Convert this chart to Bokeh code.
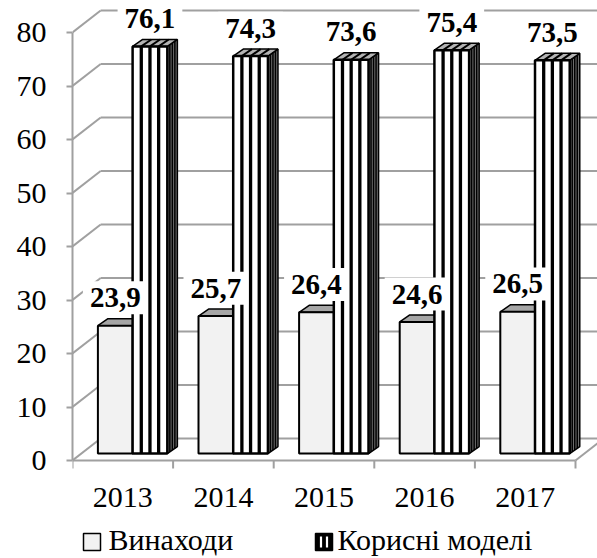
from bokeh.plotting import figure
from bokeh.models import Range1d, FixedTicker, LinearAxis
from bokeh.core.properties import value
from bokeh.embed import file_html
from bokeh.resources import INLINE

# ---- data ----
years = ["2013", "2014", "2015", "2016", "2017"]
inventions = [23.9, 25.7, 26.4, 24.6, 26.5]
utility_models = [76.1, 74.3, 73.6, 75.4, 73.5]
y_ticks = [0, 10, 20, 30, 40, 50, 60, 70, 80]
series_names = ["Винаходи", "Корисні моделі"]

# ---- layout / style constants ----
W, H = 597, 558
LEFT, FLOOR = 72, 460          # frame left edge and y=0 (pixels)
PX, PY = 100.6, 5.35           # pixels per category / per value unit
DX, DY = 0.28, 4.1             # wall / floor depth (data units)
BDX, BDY = 0.10, 1.3           # bar depth
B0 = 1.3                       # bar base (bars stand inside the floor)
BW = 0.345                     # bar width
OFF1, OFF2 = 0.425, 0.77       # bar centre offsets in a category
LBL = 5.2                      # label offset above bar top
GRID = "#a0a0a0"
FONT = "'Liberation Serif', 'Times New Roman', serif"

def xd(px):  # pixel -> data x
    return (px - LEFT) / PX

def yd(py):  # pixel -> data y
    return (FLOOR - py) / PY

fmt = lambda v: f"{v:.1f}".replace(".", ",")
n = len(years)
idx = list(range(n))

p = figure(width=W, height=H, x_range=Range1d(0, xd(W)), y_range=Range1d(yd(H), yd(0)),
           output_backend="svg", toolbar_location=None,
           x_axis_type=None, y_axis_type=None,
           min_border_left=LEFT, min_border_right=0, min_border_top=0, min_border_bottom=0)
p.outline_line_color = None
p.background_fill_color = "white"
p.border_fill_color = "white"

# ---- value axis ----
yaxis = LinearAxis(ticker=FixedTicker(ticks=y_ticks), bounds=(0, 80))
yaxis.axis_line_color = GRID
yaxis.axis_line_width = 2
yaxis.major_tick_out = 6
yaxis.major_tick_in = 0
yaxis.major_tick_line_color = GRID
yaxis.major_tick_line_width = 2
yaxis.minor_tick_line_color = None
yaxis.major_label_text_font = FONT
yaxis.major_label_text_font_size = "30px"
yaxis.major_label_text_color = "black"
yaxis.major_label_standoff = 20
p.add_layout(yaxis, "left")

# ---- walls and floor ----
p.segment(x0=[DX] * len(y_ticks), y0=[t + DY for t in y_ticks],
          x1=[6.0] * len(y_ticks), y1=[t + DY for t in y_ticks],
          line_color=GRID, line_width=2)
p.segment(x0=[0] * len(y_ticks), y0=y_ticks,
          x1=[DX] * len(y_ticks), y1=[t + DY for t in y_ticks],
          line_color=GRID, line_width=2)
p.segment(x0=[n], y0=[0], x1=[n + DX], y1=[DY], line_color=GRID, line_width=2)
p.segment(x0=[0], y0=[0], x1=[n], y1=[0], line_color=GRID, line_width=2)

# category axis: tick marks at category boundaries + year labels
p.segment(x0=list(range(n + 1)), y0=[0] * (n + 1), x1=list(range(n + 1)),
          y1=[yd(FLOOR + 8)] * (n + 1), line_color=GRID, line_width=2)
p.text(x=[i + 0.5 for i in idx], y=[yd(497)] * n, text=years,
       text_font=value(FONT), text_font_size="30px", text_align="center",
       text_baseline="middle", text_color="black")

# ---- inventions bars ----
l1 = [i + OFF1 - BW / 2 for i in idx]
r1 = [i + OFF1 + BW / 2 for i in idx]
t1 = [B0 + v for v in inventions]
p.patches(xs=[[a, b, b + BDX, a + BDX] for a, b in zip(l1, r1)],
          ys=[[t, t, t + BDY, t + BDY] for t in t1],
          fill_color="#a6a6a6", line_color="black", line_width=1.5)
p.quad(left=l1, right=r1, bottom=[B0] * n, top=t1,
       fill_color="#f2f2f2", line_color="black", line_width=2)

# ---- utility model bars ----
l2 = [i + OFF2 - BW / 2 for i in idx]
r2 = [i + OFF2 + BW / 2 for i in idx]
t2 = [B0 + v for v in utility_models]
p.patches(xs=[[b, b + BDX, b + BDX, b] for b in r2],
          ys=[[B0, B0 + BDY, t + BDY, t] for t in t2],
          fill_color="#6e6e6e", line_color="black", line_width=1.5)
p.patches(xs=[[a, b, b + BDX, a + BDX] for a, b in zip(l2, r2)],
          ys=[[t, t, t + BDY, t + BDY] for t in t2],
          fill_color="#b4b4b4", line_color="black", line_width=1.5)
p.quad(left=l2, right=r2, bottom=[B0] * n, top=t2,
       fill_color="white", line_color="black", line_width=2.5)
sx0, sy0, sx1, sy1 = [], [], [], []
tx0, ty0, tx1, ty1 = [], [], [], []
kx0, ky0, kx1, ky1 = [], [], [], []
for a, b, t in zip(l2, r2, t2):
    for k in (1, 2, 3):
        x = a + k * (b - a) / 4
        sx0.append(x); sy0.append(B0); sx1.append(x); sy1.append(t)
        tx0.append(x); ty0.append(t); tx1.append(x + BDX); ty1.append(t + BDY)
        xs = b + k * BDX / 4
        kx0.append(xs); ky0.append(B0 + k * BDY / 4); kx1.append(xs); ky1.append(t + k * BDY / 4)
p.segment(x0=sx0, y0=sy0, x1=sx1, y1=sy1, line_color="black", line_width=3.3)
p.segment(x0=tx0, y0=ty0, x1=tx1, y1=ty1, line_color="black", line_width=2)
p.segment(x0=kx0, y0=ky0, x1=kx1, y1=ky1, line_color="black", line_width=1.5)

# ---- data labels ----
for xs_, ys_, vals in (([i + OFF1 for i in idx], t1, inventions),
                       ([i + OFF2 for i in idx], t2, utility_models)):
    p.text(x=xs_, y=[t + LBL for t in ys_], text=[fmt(v) for v in vals],
           text_font=value(FONT), text_font_style="bold", text_font_size="29px",
           text_align="center", text_baseline="middle", text_color="black",
           background_fill_color="white", padding=7)

# ---- legend (drawn with glyphs below the category axis) ----
ICON = 17
icon_left = [83, 315]          # pixel x of the legend icons
label_left = [108, 337]        # pixel x of the legend labels
ICON_TOP, LEG_MID = 533, 539
p.quad(left=[xd(icon_left[0])], right=[xd(icon_left[0] + ICON)],
       top=[yd(ICON_TOP)], bottom=[yd(ICON_TOP + ICON)],
       fill_color="#f2f2f2", line_color="black", line_width=1.5)
p.quad(left=[xd(icon_left[1])], right=[xd(icon_left[1] + ICON)],
       top=[yd(ICON_TOP)], bottom=[yd(ICON_TOP + ICON)],
       fill_color="black", line_color="black", line_width=1.5)
p.segment(x0=[xd(icon_left[1] + 5.5), xd(icon_left[1] + 11.5)], y0=[yd(ICON_TOP + 3)] * 2,
          x1=[xd(icon_left[1] + 5.5), xd(icon_left[1] + 11.5)], y1=[yd(ICON_TOP + ICON - 3)] * 2,
          line_color="white", line_width=2.2)
p.text(x=[xd(v) for v in label_left], y=[yd(LEG_MID)] * 2, text=series_names,
       text_font=value(FONT), text_font_size="30px", text_align="left",
       text_baseline="middle", text_color="black")

open("out.html", "w").write(file_html(p, INLINE))
